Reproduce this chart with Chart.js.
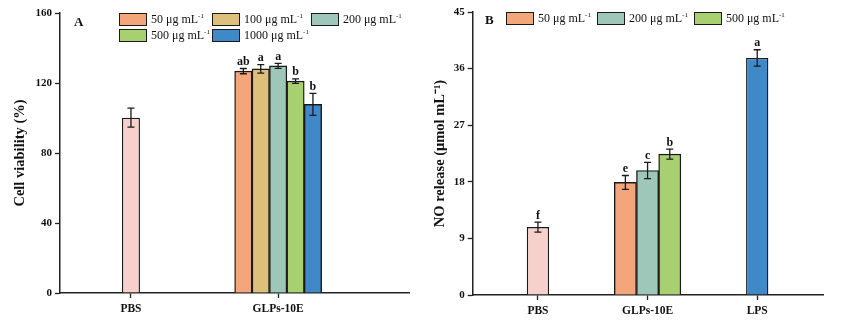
<!DOCTYPE html>
<html>
<head>
<meta charset="utf-8">
<script src="https://cdn.jsdelivr.net/npm/chart.js@4.4.1/dist/chart.umd.min.js"></script>
<style>
  html, body { margin: 0; padding: 0; background: #fff; }
  #wrap { position: relative; width: 850px; height: 326px; overflow: hidden;
          font-family: "Liberation Serif", "Times New Roman", serif; color: #111; }
  .panel { position: absolute; top: 0; width: 425px; height: 326px; }
  .panel canvas { position: absolute; left: 0; top: 0; }
  .tag { position: absolute; font-weight: bold; font-size: 13px; line-height: 13px; }
  .legend { position: absolute; display: grid; column-gap: 2px; row-gap: 3px; font-size: 12px; }
  .legend.row { display: flex; column-gap: 6px; }
  .item { display: flex; align-items: center; height: 13px; white-space: nowrap; line-height: 13px; }
  .sw { box-sizing: border-box; width: 28px; height: 13px; border: 1.4px solid #1a1a1a; margin-right: 4px; flex: none; }
  sup { font-size: 7px; line-height: 0; position: relative; top: -1px; vertical-align: 4px; }
</style>
</head>
<body>
<div id="wrap">
  <div class="panel" id="panelA" style="left:0">
    <canvas id="chartA" width="425" height="326"></canvas>
    <div class="tag" style="left:74px; top:15px">A</div>
    <div class="legend" id="legendA" style="left:119px; top:13px; grid-template-columns: repeat(3, auto);"></div>
  </div>
  <div class="panel" id="panelB" style="left:425px">
    <canvas id="chartB" width="425" height="326"></canvas>
    <div class="tag" style="left:60px; top:13px">B</div>
    <div class="legend row" id="legendB" style="left:81px; top:12px;"></div>
  </div>
</div>
<script>
// ---- Panel A: cell viability ----
const groupsA = ["PBS", "GLPs-10E"];
const dosesA = ["50", "100", "200", "500", "1000"];
const pbsViability = 100.2;
const pbsViabilitySd = 5.4;
const glpsViability = [126.8, 128.1, 129.8, 121.1, 107.8];
const glpsViabilitySd = [1.5, 2.4, 1.4, 1.3, 6.3];
const glpsViabilityLetters = ["ab", "a", "a", "b", "b"];
const viabilityTicks = [0, 40, 80, 120, 160];

// ---- Panel B: NO release ----
const groupsB = ["PBS", "GLPs-10E", "LPS"];
const dosesB = ["50", "200", "500"];
const pbsNo = 10.8;
const pbsNoSd = 0.8;
const pbsNoLetter = "f";
const glpsNo = [17.9, 19.8, 22.4];
const glpsNoSd = [1.1, 1.3, 0.8];
const glpsNoLetters = ["e", "c", "b"];
const lpsNo = 37.7;
const lpsNoSd = 1.3;
const lpsNoLetter = "a";
const noTicks = [0, 9, 18, 27, 36, 45];

// ---- colours ----
const doseColors = { "50": "#F4A67B", "100": "#DCC07B", "200": "#9EC7BA", "500": "#A9D070", "1000": "#3F89C9" };
const pbsColor = "#F7CFCB";
const lpsColor = "#3F89C9";
const inkColor = "#1a1a1a";

const serif = '"Liberation Serif", "Times New Roman", serif';
Chart.defaults.font.family = serif;
Chart.defaults.color = "#111";

// Error bars (mean ± SD) and significance letters above each bar
const errorBars = {
  id: "errorBars",
  afterDatasetsDraw(chart) {
    const { ctx } = chart;
    const y = chart.scales.y;
    ctx.save();
    chart.data.datasets.forEach((ds, di) => {
      const meta = chart.getDatasetMeta(di);
      ds.data.forEach((v, i) => {
        if (v === null || v === undefined) return;
        const bar = meta.data[i];
        const sd = ds.sd[i];
        const top = y.getPixelForValue(v + sd);
        const bot = y.getPixelForValue(v - sd);
        const cap = 3.5;
        ctx.strokeStyle = inkColor;
        ctx.lineWidth = 1.3;
        ctx.beginPath();
        ctx.moveTo(bar.x, top); ctx.lineTo(bar.x, bot);
        ctx.moveTo(bar.x - cap, top); ctx.lineTo(bar.x + cap, top);
        ctx.moveTo(bar.x - cap, bot); ctx.lineTo(bar.x + cap, bot);
        ctx.stroke();
        const letter = ds.letters && ds.letters[i];
        if (letter) {
          ctx.fillStyle = "#111";
          ctx.font = "bold 12px " + serif;
          ctx.textAlign = "center";
          ctx.textBaseline = "alphabetic";
          ctx.fillText(letter, bar.x, top - 3.5);
        }
      });
    });
    ctx.restore();
  }
};

// Places a bar value at one category slot, null elsewhere
function slot(n, idx, value) {
  return Array.from({ length: n }, (_, i) => (i === idx ? value : null));
}

function axisOptions(groups, range, yMax, yStep, yTitle, yWidth, titlePad, xHeight) {
  return {
    x: {
      type: "linear",
      offset: false,
      min: range[0],
      max: range[1],
      afterBuildTicks(s) { s.ticks = groups.map((_, i) => ({ value: i + 1 })); },
      ticks: {
        callback: (v) => groups[Math.round(v) - 1],
        font: { size: 11.5, weight: "bold" },
        color: "#111",
        padding: 4,
        autoSkip: false,
        maxRotation: 0
      },
      grid: { display: true, offset: false, drawOnChartArea: false, drawTicks: true, tickLength: 5, tickColor: "#222", tickWidth: 1.3 },
      border: { display: true, color: "#222", width: 1.5 },
      afterFit(s) { s.height = xHeight; }
    },
    y: {
      min: 0,
      max: yMax,
      ticks: { stepSize: yStep, font: { size: 11, weight: "bold" }, color: "#111", padding: 3 },
      grid: { display: true, drawOnChartArea: false, drawTicks: true, tickLength: 5, tickColor: "#222", tickWidth: 1.3 },
      border: { display: true, color: "#222", width: 1.5 },
      title: { display: true, text: yTitle, font: { size: 14.5, weight: "bold" }, color: "#111", padding: { top: titlePad, bottom: 0 } },
      afterFit(s) { s.width = yWidth; }
    }
  };
}

const barStyle = { borderColor: inkColor, borderWidth: 1.4 };

// ---- Chart A ----
const datasetsA = [
  Object.assign({
    label: "PBS",
    data: slot(groupsA.length, 0, pbsViability),
    sd: slot(groupsA.length, 0, pbsViabilitySd),
    backgroundColor: pbsColor,
    grouped: false,
    maxBarThickness: 18
  }, barStyle)
].concat(dosesA.map((d, k) => Object.assign({
  label: d + " μg mL⁻¹",
  data: slot(groupsA.length, 1, glpsViability[k]),
  sd: slot(groupsA.length, 1, glpsViabilitySd[k]),
  letters: slot(groupsA.length, 1, glpsViabilityLetters[k]),
  backgroundColor: doseColors[d],
  barThickness: 17.4
}, barStyle)));

new Chart(document.getElementById("chartA"), {
  type: "bar",
  data: { labels: groupsA.map((_, i) => i + 1), datasets: datasetsA },
  options: {
    responsive: false,
    animation: false,
    layout: { padding: { left: 0, top: 13, right: 16, bottom: 0 } },
    plugins: { legend: { display: false }, tooltip: { enabled: false } },
    scales: axisOptions(groupsA, [0.518, 2.889], viabilityTicks[viabilityTicks.length - 1], viabilityTicks[1],
      "Cell viability (%)", 60, 11.6, 33)
  },
  plugins: [errorBars]
});

// ---- Chart B ----
const datasetsB = [
  Object.assign({
    label: "PBS",
    data: slot(groupsB.length, 0, pbsNo),
    sd: slot(groupsB.length, 0, pbsNoSd),
    letters: slot(groupsB.length, 0, pbsNoLetter),
    backgroundColor: pbsColor,
    grouped: false,
    maxBarThickness: 22.3
  }, barStyle)
].concat(dosesB.map((d, k) => Object.assign({
  label: d + " μg mL⁻¹",
  data: slot(groupsB.length, 1, glpsNo[k]),
  sd: slot(groupsB.length, 1, glpsNoSd[k]),
  letters: slot(groupsB.length, 1, glpsNoLetters[k]),
  backgroundColor: doseColors[d],
  barThickness: 22.2
}, barStyle))).concat([
  Object.assign({
    label: "LPS",
    data: slot(groupsB.length, 2, lpsNo),
    sd: slot(groupsB.length, 2, lpsNoSd),
    letters: slot(groupsB.length, 2, lpsNoLetter),
    backgroundColor: lpsColor,
    grouped: false,
    maxBarThickness: 22.3
  }, barStyle)
]);

new Chart(document.getElementById("chartB"), {
  type: "bar",
  data: { labels: groupsB.map((_, i) => i + 1), datasets: datasetsB },
  options: {
    responsive: false,
    animation: false,
    layout: { padding: { left: 0, top: 12, right: 27, bottom: 0 } },
    plugins: { legend: { display: false }, tooltip: { enabled: false } },
    scales: axisOptions(groupsB, [0.405, 3.6], noTicks[noTicks.length - 1], noTicks[1],
      "NO release (μmol mL⁻¹)", 47.7, 6.6, 31)
  },
  plugins: [errorBars]
});

// Dose legends (swatch + label), built from the same dose lists and colours
function buildLegend(el, doses) {
  doses.forEach((d) => {
    const item = document.createElement("div");
    item.className = "item";
    const sw = document.createElement("span");
    sw.className = "sw";
    sw.style.background = doseColors[d];
    const tx = document.createElement("span");
    tx.innerHTML = d + " μg mL<sup>-1</sup>";
    item.appendChild(sw);
    item.appendChild(tx);
    el.appendChild(item);
  });
}
buildLegend(document.getElementById("legendA"), dosesA);
buildLegend(document.getElementById("legendB"), dosesB);
</script>
</body>
</html>
